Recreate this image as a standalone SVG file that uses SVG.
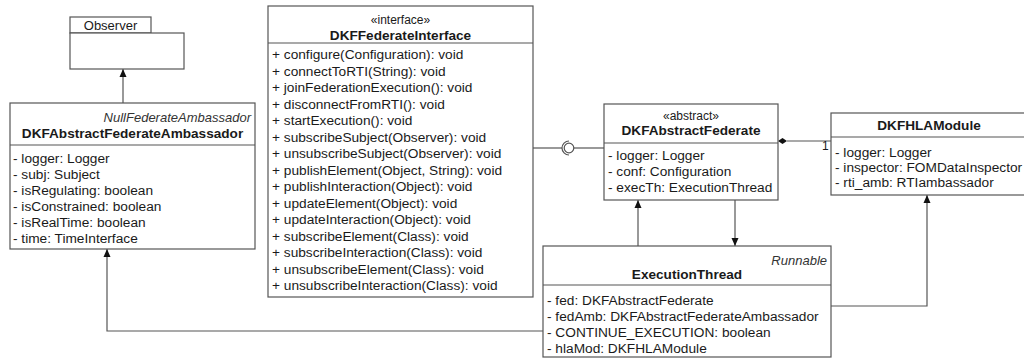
<svg xmlns="http://www.w3.org/2000/svg" width="1024" height="360" viewBox="0 0 1024 360">
<defs>
<marker id="arr" markerWidth="9" markerHeight="8" refX="8" refY="4" orient="auto" markerUnits="userSpaceOnUse">
<path d="M0,0.5 L8,4 L0,7.5 z" fill="#111"/>
</marker>
<style>
.box{fill:#fff;stroke:#555;stroke-width:1.2}
.ln{fill:none;stroke:#555;stroke-width:1.2}
text{font-family:"Liberation Sans",Arial,Helvetica,sans-serif;fill:#1a1a1a}
.t{font-size:13.6px;font-weight:bold;text-anchor:middle}
.a{font-size:13.7px}
.s{font-size:12px;text-anchor:middle}
.i{font-size:13px;font-style:italic;text-anchor:end;fill:#333}
</style>
</defs>
<rect width="1024" height="360" fill="#fff"/>

<g id="connectors">
<path class="ln" d="M123,103 L123,69" marker-end="url(#arr)"/>
<path class="ln" d="M543,331 L107,331 L107,249" marker-end="url(#arr)"/>
<path class="ln" d="M638,246 L638,200" marker-end="url(#arr)"/>
<path class="ln" d="M735,200 L735,246" marker-end="url(#arr)"/>
<path class="ln" d="M831,306 L927,306 L927,195" marker-end="url(#arr)"/>
<path class="ln" d="M787,141 L831,141"/>
<polygon points="778,141 782.5,138 787,141 782.5,144" fill="#111"/>
<text x="822" y="150" style="font-size:12px">1</text>
<path class="ln" d="M533,148 L562,148"/>
<path class="ln" d="M569,141 A7,7 0 0 0 569,155"/>
<circle cx="569" cy="148" r="4.8" fill="#fff" stroke="#555" stroke-width="1.2"/>
<path class="ln" d="M573.8,148 L604,148"/>
</g>

<g id="Observer">
<rect class="box" x="70" y="17" width="81" height="16"/>
<rect class="box" x="70" y="33" width="114" height="36"/>
<text x="110.5" y="29.5" style="font-size:13px;text-anchor:middle">Observer</text>
</g>

<g id="DKFAbstractFederateAmbassador">
<rect class="box" x="10" y="103" width="245" height="146"/>
<line class="ln" x1="10" y1="145" x2="255" y2="145"/>
<text class="i" x="251" y="121.5">NullFederateAmbassador</text>
<text class="t" x="132.5" y="137.5">DKFAbstractFederateAmbassador</text>
<text class="a" x="13" y="163">- logger: Logger</text>
<text class="a" x="13" y="179">- subj: Subject</text>
<text class="a" x="13" y="195">- isRegulating: boolean</text>
<text class="a" x="13" y="211">- isConstrained: boolean</text>
<text class="a" x="13" y="227">- isRealTime: boolean</text>
<text class="a" x="13" y="243">- time: TimeInterface</text>
</g>

<g id="DKFFederateInterface">
<rect class="box" x="268" y="6" width="265" height="291"/>
<line class="ln" x1="268" y1="43" x2="533" y2="43"/>
<text class="s" x="400.5" y="24">«interface»</text>
<text class="t" x="400.5" y="39.5">DKFFederateInterface</text>
<text class="a" x="272" y="59">+ configure(Configuration): void</text>
<text class="a" x="272" y="75.5">+ connectToRTI(String): void</text>
<text class="a" x="272" y="92">+ joinFederationExecution(): void</text>
<text class="a" x="272" y="108.5">+ disconnectFromRTI(): void</text>
<text class="a" x="272" y="125">+ startExecution(): void</text>
<text class="a" x="272" y="141.5">+ subscribeSubject(Observer): void</text>
<text class="a" x="272" y="158">+ unsubscribeSubject(Observer): void</text>
<text class="a" x="272" y="174.5">+ publishElement(Object, String): void</text>
<text class="a" x="272" y="191">+ publishInteraction(Object): void</text>
<text class="a" x="272" y="207.5">+ updateElement(Object): void</text>
<text class="a" x="272" y="224">+ updateInteraction(Object): void</text>
<text class="a" x="272" y="240.5">+ subscribeElement(Class): void</text>
<text class="a" x="272" y="257">+ subscribeInteraction(Class): void</text>
<text class="a" x="272" y="273.5">+ unsubscribeElement(Class): void</text>
<text class="a" x="272" y="290">+ unsubscribeInteraction(Class): void</text>
</g>

<g id="DKFAbstractFederate">
<rect class="box" x="604" y="104" width="174" height="96"/>
<line class="ln" x1="604" y1="143" x2="778" y2="143"/>
<text class="s" x="691" y="120">«abstract»</text>
<text class="t" x="691" y="135">DKFAbstractFederate</text>
<text class="a" x="608" y="160">- logger: Logger</text>
<text class="a" x="608" y="176">- conf: Configuration</text>
<text class="a" x="608" y="192">- execTh: ExecutionThread</text>
</g>

<g id="DKFHLAModule">
<rect class="box" x="831" y="113" width="200" height="82"/>
<line class="ln" x1="831" y1="137" x2="1031" y2="137"/>
<text class="t" x="929" y="130">DKFHLAModule</text>
<text class="a" x="835" y="157">- logger: Logger</text>
<text class="a" x="835" y="172">- inspector: FOMDataInspector</text>
<text class="a" x="835" y="187">- rti_amb: RTIambassador</text>
</g>

<g id="ExecutionThread">
<rect class="box" x="543" y="246" width="288" height="111"/>
<line class="ln" x1="543" y1="285" x2="831" y2="285"/>
<text class="i" x="827" y="264.5">Runnable</text>
<text class="t" x="687" y="279">ExecutionThread</text>
<text class="a" x="547" y="305">- fed: DKFAbstractFederate</text>
<text class="a" x="547" y="321">- fedAmb: DKFAbstractFederateAmbassador</text>
<text class="a" x="547" y="337">- CONTINUE_EXECUTION: boolean</text>
<text class="a" x="547" y="353">- hlaMod: DKFHLAModule</text>
</g>
</svg>
